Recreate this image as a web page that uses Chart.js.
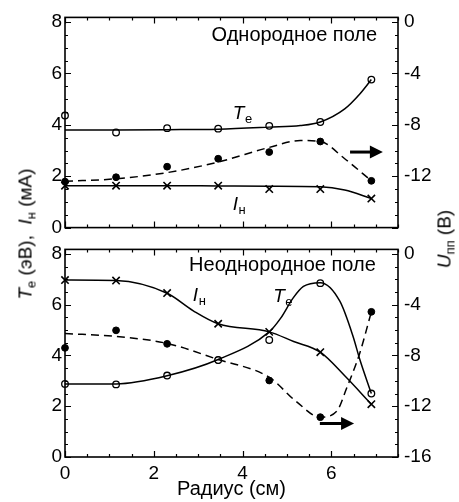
<!DOCTYPE html>
<html>
<head>
<meta charset="utf-8">
<script src="https://cdn.jsdelivr.net/npm/chart.js@4.4.1/dist/chart.umd.min.js"></script>
<style>
  html, body { margin:0; padding:0; background:#fff; }
  #wrap { position:relative; width:459px; height:502px; background:#fff; overflow:hidden; }
  canvas { position:absolute; left:0; }
  .ytitle { position:absolute; white-space:nowrap; font-family:'Liberation Sans', Arial, sans-serif;
            font-size:19px; color:#000; transform:translate(-50%,-50%) rotate(-90deg); line-height:1; }
  .ytitle i { font-style:italic; }
  .ytitle .sb { font-size:13px; position:relative; top:4px; }
</style>
</head>
<body>
<div id="wrap">
  <canvas id="c1" width="459" height="245" style="top:0"></canvas>
  <canvas id="c2" width="459" height="270" style="top:232px"></canvas>
  <div class="ytitle" style="left:25px; top:234px;"><i>T</i><span class="sb">e</span> (эВ),&nbsp; <i>I</i><span class="sb">н</span> (мА)</div>
  <div class="ytitle" style="left:444px; top:239px;"><i>U</i><span class="sb">пп</span> (В)</div>
</div>
<script>
// ---------- data ----------
const radius = [0, 1.15, 2.3, 3.45, 4.6, 5.75, 6.9];
const leftTicks = [0, 2, 4, 6, 8];
const rightTicksTop = [-12, -8, -4, 0];
const rightTicksBottom = [-16, -12, -8, -4, 0];
const xTicks = [0, 2, 4, 6];

// Однородное поле (uniform field)
const teUniform = [4.36, 3.70, 3.87, 3.85, 3.96, 4.11, 5.76];
const inUniform = [1.63, 1.63, 1.63, 1.63, 1.50, 1.50, 1.13];
const upUniform = [-12.42, -12.08, -11.26, -10.64, -10.12, -9.30, -12.36];
const teUniformFitX = [0, 1.15, 2.3, 3.45, 4.6, 5.3, 5.75, 6.3, 6.64, 6.9];
const teUniformFitY = [3.80, 3.80, 3.81, 3.83, 3.91, 3.97, 4.11, 4.62, 5.2, 5.76];
const inUniformFitX = [0, 1.15, 2.3, 3.45, 4.6, 5.75, 6.3, 6.9];
const inUniformFitY = [1.63, 1.63, 1.63, 1.62, 1.61, 1.59, 1.46, 1.13];
const upUniformFitX = [0, 1.15, 2.3, 3.45, 4.6, 5.3, 5.75, 6.3, 6.9];
const upUniformFitY = [-12.4, -12.2, -11.72, -10.9, -9.76, -9.22, -9.3, -10.64, -12.36];

// Неоднородное поле (non-uniform field)
const teNonuni = [2.88, 2.86, 3.21, 3.82, 4.61, 6.85, 2.50];
const inNonuni = [6.97, 6.95, 6.46, 5.25, 4.93, 4.13, 2.08];
const upNonuni = [-7.40, -6.02, -7.08, -8.36, -9.97, -12.86, -4.56];
const teNonuniFitX = [0, 1.15, 2.3, 3.45, 4.6, 4.85, 5.14, 5.37, 5.75, 6.19, 6.49, 6.64, 6.9];
const teNonuniFitY = [2.88, 2.88, 3.2, 3.84, 4.93, 5.45, 6.27, 6.72, 6.87, 6.14, 4.74, 3.84, 2.5];
const inNonuniFitX = [0, 1.15, 2.3, 2.89, 3.45, 4.6, 5.15, 5.75, 6.3, 6.9];
const inNonuniFitY = [6.97, 6.95, 6.45, 5.76, 5.25, 4.93, 4.55, 4.13, 3.2, 2.08];
const upNonuniFitX = [0, 1.15, 2.3, 3.45, 4.6, 5.2, 5.75, 6.12, 6.34, 6.64, 6.9];
const upNonuniFitY = [-6.27, -6.5, -7.05, -8.32, -9.72, -11.6, -12.86, -12.4, -10.6, -7.8, -4.56];

// ---------- helpers ----------
const FONT = "'Liberation Sans', Arial, sans-serif";
const zip = (xs, ys) => xs.map((x, i) => ({x, y: ys[i]}));

function fitSet(xs, ys, axis, dashed) {
  return { data: zip(xs, ys), yAxisID: axis, showLine: true, pointRadius: 0, borderColor: '#000',
           borderWidth: 1.5, borderDash: dashed ? [8, 5] : [], cubicInterpolationMode: 'monotone', clip: false };
}
function markSet(ys, axis, kind) {
  const s = { data: zip(radius, ys), yAxisID: axis, showLine: false, clip: false,
              pointBorderColor: '#000', borderColor: '#000' };
  if (kind === 'open') Object.assign(s, {pointStyle: 'circle', pointRadius: 3.3, pointBackgroundColor: '#fff', pointBorderWidth: 1.3});
  if (kind === 'fill') Object.assign(s, {pointStyle: 'circle', pointRadius: 3.4, pointBackgroundColor: '#000', pointBorderWidth: 1});
  if (kind === 'cross') Object.assign(s, {pointStyle: 'crossRot', pointRadius: 5.2, pointBackgroundColor: '#000', pointBorderWidth: 1.6});
  return s;
}

function drawLabel(ctx, x, y, main, sub) {
  ctx.font = 'italic 19px ' + FONT;
  ctx.textAlign = 'left'; ctx.textBaseline = 'alphabetic';
  ctx.fillText(main, x, y);
  const w = ctx.measureText(main).width;
  ctx.font = '13px ' + FONT;
  ctx.fillText(sub, x + w + 0.5, y + 4);
}

const decorPlugin = {
  id: 'decor',
  afterDraw(chart, args, o) {
    const ctx = chart.ctx, ca = chart.chartArea;
    const xs = chart.scales.x, ys = chart.scales.y, y2 = chart.scales.y2;
    ctx.save();
    ctx.strokeStyle = '#000'; ctx.fillStyle = '#000'; ctx.lineWidth = 1.2;
    // inward tick marks
    ctx.beginPath();
    for (let v = 0; v <= 7.5001; v += 0.5) {
      const px = Math.round(xs.getPixelForValue(v)) + 0.5;
      const len = (Math.abs(v % 2) < 1e-6) ? 6 : 3;
      ctx.moveTo(px, ca.bottom); ctx.lineTo(px, ca.bottom - len);
      ctx.moveTo(px, ca.top); ctx.lineTo(px, ca.top + len);
    }
    for (let v = 0; v <= 8.001; v += 0.5) {
      const py = Math.round(ys.getPixelForValue(v)) + 0.5;
      const len = (Math.abs(v % 2) < 1e-6) ? 6 : 3;
      ctx.moveTo(ca.left, py); ctx.lineTo(ca.left + len, py);
    }
    for (let u = 0; u >= -16; u -= 1) {
      const py = Math.round(y2.getPixelForValue(u)) + 0.5;
      const len = (u % 4 === 0) ? 6 : 3;
      ctx.moveTo(ca.right, py); ctx.lineTo(ca.right - len, py);
    }
    ctx.stroke();
    // frame
    ctx.lineWidth = 1.6;
    ctx.strokeRect(ca.left, ca.top, ca.right - ca.left, ca.bottom - ca.top);
    // panel title
    ctx.font = '20px ' + FONT; ctx.textAlign = 'right'; ctx.textBaseline = 'alphabetic';
    ctx.fillText(o.title, xs.getPixelForValue(o.titlePos[0]), ys.getPixelForValue(o.titlePos[1]));
    // curve labels
    drawLabel(ctx, xs.getPixelForValue(o.teLab[0]), ys.getPixelForValue(o.teLab[1]), 'T', 'e');
    drawLabel(ctx, xs.getPixelForValue(o.inLab[0]), ys.getPixelForValue(o.inLab[1]), 'I', 'н');
    // arrow pointing to the right axis
    const ax1 = xs.getPixelForValue(o.arrow[0]), ax2 = xs.getPixelForValue(o.arrow[1]);
    const ay = y2.getPixelForValue(o.arrow[2]);
    const head = 13;
    ctx.lineWidth = 3;
    ctx.beginPath(); ctx.moveTo(ax1, ay); ctx.lineTo(ax2 - head + 1, ay); ctx.stroke();
    ctx.beginPath(); ctx.moveTo(ax2 - head, ay - 6.5); ctx.lineTo(ax2, ay); ctx.lineTo(ax2 - head, ay + 6.5); ctx.closePath(); ctx.fill();
    ctx.restore();
  }
};

function makeChart(id, sets, rightTicks, showX, padTop, padBottom, deco) {
  const tickFont = {family: FONT, size: 19};
  return new Chart(document.getElementById(id), {
    type: 'scatter',
    data: { datasets: sets },
    options: {
      responsive: false, animation: false, events: [],
      layout: { padding: {top: padTop, bottom: padBottom, left: 0, right: 0} },
      plugins: { legend: {display: false}, tooltip: {enabled: false}, decor: deco },
      scales: {
        x: {
          type: 'linear', min: 0, max: 7.5, display: showX,
          afterBuildTicks: s => { s.ticks = xTicks.map(v => ({value: v})); },
          afterFit: s => { s.height = showX ? 45 : 0; },
          grid: {display: false, drawTicks: false}, border: {display: false},
          ticks: {font: tickFont, color: '#000', padding: 5, maxRotation: 0},
          title: {display: true, text: 'Радиус (см)', font: {family: FONT, size: 20}, color: '#000', padding: {top: 0, bottom: 1}}
        },
        y: {
          type: 'linear', position: 'left', min: 0, max: 8.18,
          afterBuildTicks: s => { s.ticks = leftTicks.map(v => ({value: v})); },
          afterFit: s => { s.width = 65; },
          grid: {display: false, drawTicks: false}, border: {display: false},
          ticks: {font: tickFont, color: '#000', padding: 3}
        },
        y2: {
          type: 'linear', position: 'right', min: -16, max: 0.36,
          afterBuildTicks: s => { s.ticks = rightTicks.map(v => ({value: v})); },
          afterFit: s => { s.width = 61; },
          grid: {display: false, drawTicks: false}, border: {display: false},
          ticks: {font: tickFont, color: '#000', padding: 6}
        }
      }
    },
    plugins: [decorPlugin]
  });
}

makeChart('c1', [
  fitSet(teUniformFitX, teUniformFitY, 'y', false),
  fitSet(inUniformFitX, inUniformFitY, 'y', false),
  fitSet(upUniformFitX, upUniformFitY, 'y2', true),
  markSet(teUniform, 'y', 'open'),
  markSet(inUniform, 'y', 'cross'),
  markSet(upUniform, 'y2', 'fill')
], rightTicksTop, false, 13, 13, {
  title: 'Однородное поле', titlePos: [7.03, 7.26],
  teLab: [3.78, 4.22], inLab: [3.78, 0.7], arrow: [6.42, 7.16, -10.12]
});

makeChart('c2', [
  fitSet(teNonuniFitX, teNonuniFitY, 'y', false),
  fitSet(inNonuniFitX, inNonuniFitY, 'y', false),
  fitSet(upNonuniFitX, upNonuniFitY, 'y2', true),
  markSet(teNonuni, 'y', 'open'),
  markSet(inNonuni, 'y', 'cross'),
  markSet(upNonuni, 'y2', 'fill')
], rightTicksBottom, true, 11, 0, {
  title: 'Неоднородное поле', titlePos: [7.0, 7.32],
  teLab: [4.69, 6.09], inLab: [2.88, 6.13], arrow: [5.74, 6.51, -13.36]
});
</script>
</body>
</html>
